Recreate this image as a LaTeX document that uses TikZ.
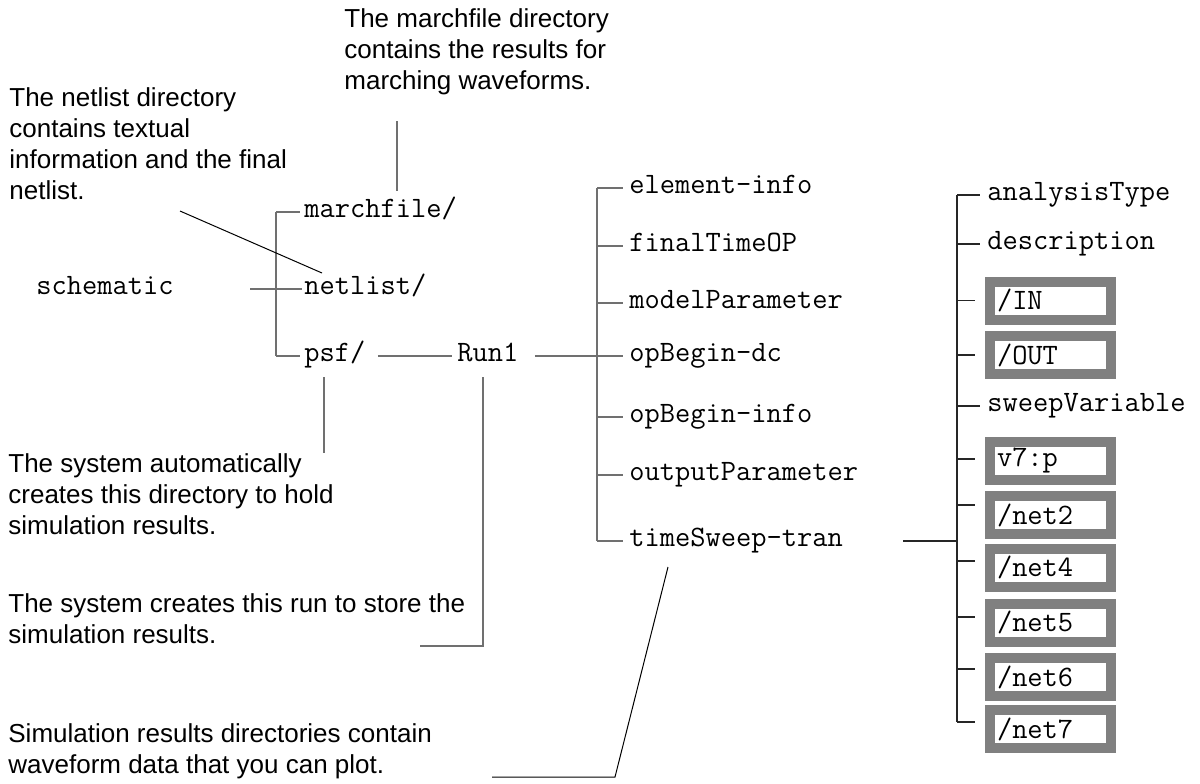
\documentclass[tikz,border=0pt]{standalone}
\usepackage{fontspec}
\setmainfont{Liberation Sans}
\usetikzlibrary{calc,positioning}
\definecolor{boxgray}{RGB}{128,128,128}
\definecolor{linegray}{RGB}{112,112,112}
\tikzset{
  dir/.style={font=\fontsize{14.8}{17}\selectfont\ttfamily, inner sep=0pt, anchor=mid west},
  note/.style={font=\fontsize{13}{15.5}\selectfont, align=left, inner sep=0pt, anchor=north west},
  sigbox/.style={draw=boxgray, line width=5pt, fill=white, text width=53.5pt, inner xsep=3.5pt,
    inner ysep=0pt, minimum height=19pt, align=left, font=\fontsize{14.8}{17}\selectfont\ttfamily},
  tree/.style={draw=linegray, line width=0.9pt},
  rtree/.style={draw=black!85, line width=0.6pt},
  pin/.style={draw=black, line width=0.5pt}
}

\begin{document}
\begin{tikzpicture}[x=0.5pt,y=-0.5pt]
\useasboundingbox (0,0) rectangle (1200,783);
\node[note] (marchnote) at (344,8) {The marchfile directory\\contains the results for\\marching waveforms.};
\node[note] (netnote) at (9,87) {The netlist directory\\contains textual\\information and the final\\netlist.};
\node[note] (psfnote) at (8,453) {The system automatically\\creates this directory to hold\\simulation results.};
\node[note] (runnote) at (8,593) {The system creates this run to store the\\simulation results.};
\node[note] (simnote) at (8,723) {Simulation results directories contain\\waveform data that you can plot.};

\node[dir] (schematic) at (36,289) {schematic};
\node[dir] (marchfile) at (304,212) {marchfile/};
\node[dir] (netlist) at (304,289) {netlist/};
\node[dir] (psf) at (304,356) {psf/};
\node[dir] (run) at (457,356) {Run1};

\node[dir] (elem) at (629,188) {element-info};
\node[dir] (final) at (629,246) {finalTimeOP};
\node[dir] (model) at (629,303) {modelParameter};
\node[dir] (opdc) at (629,356) {opBegin-dc};
\node[dir] (opinfo) at (629,417) {opBegin-info};
\node[dir] (output) at (629,475) {outputParameter};
\node[dir] (tsweep) at (629,541) {timeSweep-tran};

\node[dir] (atype) at (987,195) {analysisType};
\node[dir] (descr) at (987,244) {description};
\node[dir] (sweepvar) at (987,406) {sweepVariable};

\coordinate (ltrunk) at (276,0);
\coordinate (mtrunk) at (597,0);
\coordinate (rtrunk) at (957,0);
\coordinate (netin) at (250,289);

% signal boxes
\foreach \nm/\txt/\yc/\dy in {in/{/IN}/300.5/0, out/{/OUT}/355/0, v7p/{v7:p}/461/1,
    net2/{/net2}/515/5, net4/{/net4}/567.5/3.25, net5/{/net5}/622.5/2.75,
    net6/{/net6}/677/4, net7/{/net7}/729/3.5}{
  \node[sigbox] (\nm) at (1050.5,\yc) {\txt};
  \coordinate (\nm tick) at ([yshift=\dy pt]\nm.west);
  \draw[rtree,shorten >=5pt] (\nm tick -| rtrunk) -- (\nm tick);
}

% left tree
\draw[tree] (marchfile.mid west -| ltrunk) -- (psf.mid west -| ltrunk);
\draw[tree,shorten >=2pt] (marchfile.mid west -| ltrunk) -- (marchfile.mid west);
\draw[tree,shorten >=2pt] (psf.mid west -| ltrunk) -- (psf.mid west);
\draw[tree,shorten >=1pt] (netin) -- (netlist.mid west);
\path[tree] (psf.mid east) edge[shorten <=6pt,shorten >=2.5pt] (run.mid west)
  (run.mid east) edge[shorten <=8pt,shorten >=3pt] (opdc.mid west);

% middle tree
\draw[tree] (elem.mid west -| mtrunk) -- (tsweep.mid west -| mtrunk);
\foreach \nd in {elem,final,model,opinfo,output,tsweep}
  \draw[tree,shorten >=3pt] (\nd.mid west -| mtrunk) -- (\nd.mid west);

% right tree
\draw[rtree] (atype.mid west -| rtrunk) -- (net7tick -| rtrunk);
\foreach \nd in {atype,descr,sweepvar}
  \draw[rtree,shorten >=3.5pt] (\nd.mid west -| rtrunk) -- (\nd.mid west);
\draw[rtree,shorten <=30pt] (tsweep.mid east) -- (tsweep.mid east -| rtrunk);

% callouts
\coordinate (mftop) at (397,121);
\coordinate (mfpin) at (397,191);
\coordinate (nlfoot) at (180,211);
\coordinate (nlpin) at (322,273);
\coordinate (psfpin) at (324,377);
\coordinate (psffoot) at (324,453);
\coordinate (runpin) at (483,377);
\coordinate (runfoot) at (420,646);
\coordinate (tspin) at (668,567);
\coordinate (tsknee) at (615,777);
\coordinate (tsfoot) at (492,777);
\draw[tree] (mftop) -- (mfpin);
\draw[pin] (nlfoot) -- (nlpin);
\draw[tree] (psfpin) -- (psffoot);
\draw[tree] (runpin) |- (runfoot);
\draw[pin] (tspin) -- (tsknee) -- (tsfoot);
\end{tikzpicture}
\end{document}
